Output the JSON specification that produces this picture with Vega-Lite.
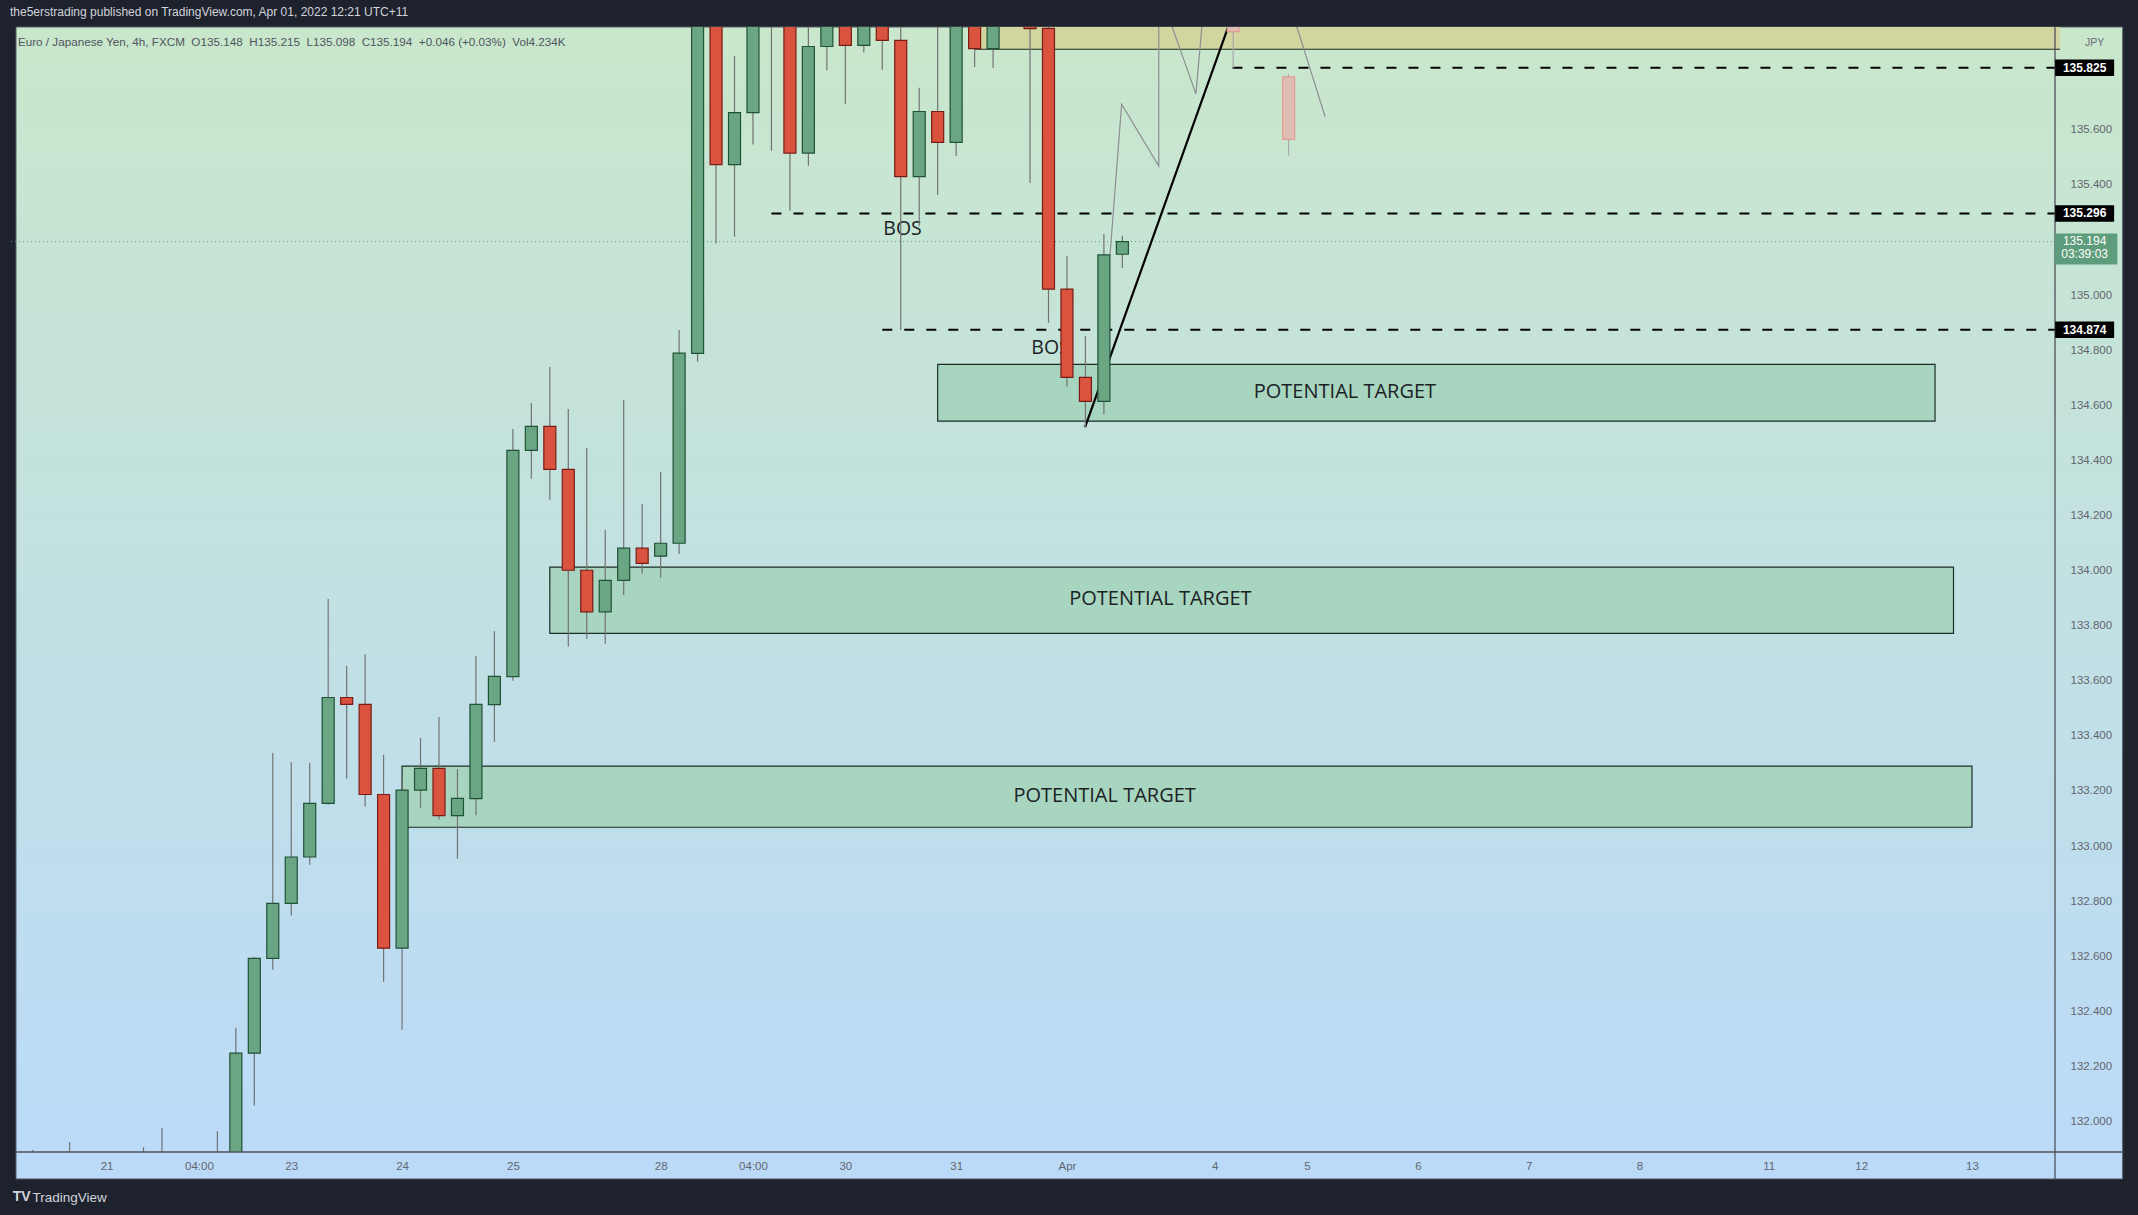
{
  "$schema": "https://vega.github.io/schema/vega-lite/v6.json",
  "width": 2049,
  "height": 1125,
  "autosize": {"type": "none"},
  "padding": {"left": 11, "top": 27, "right": 78, "bottom": 63},
  "background": "#1e222d",
  "title": {
    "text": "the5erstrading published on TradingView.com, Apr 01, 2022 12:21 UTC+11",
    "anchor": "start",
    "frame": "group",
    "offset": 7,
    "dx": -1,
    "font": "Liberation Sans",
    "fontSize": 12,
    "fontWeight": "normal",
    "color": "#d1d4dc"
  },
  "config": {
    "view": {"stroke": null},
    "axis": {"grid": false, "domain": false, "ticks": false, "labelFont": "Liberation Sans", "labelFontSize": 11.5, "labelColor": "#62656f", "labelOverlap": false}
  },
  "datasets": {
    "candles": [
      {"i": -4, "o": 131.80, "h": 131.897, "l": 131.62, "c": 131.84},
      {"i": -3, "o": 131.84, "h": 131.87, "l": 131.66, "c": 131.74},
      {"i": -2, "o": 131.74, "h": 131.926, "l": 131.68, "c": 131.85},
      {"i": -1, "o": 131.85, "h": 131.88, "l": 131.62, "c": 131.66},
      {"i": 0, "o": 131.66, "h": 131.75, "l": 131.50, "c": 131.58},
      {"i": 1, "o": 131.58, "h": 131.80, "l": 131.52, "c": 131.74},
      {"i": 2, "o": 131.74, "h": 131.907, "l": 131.66, "c": 131.82},
      {"i": 3, "o": 131.82, "h": 131.976, "l": 131.70, "c": 131.75},
      {"i": 4, "o": 131.75, "h": 131.86, "l": 131.60, "c": 131.68},
      {"i": 5, "o": 131.68, "h": 131.85, "l": 131.60, "c": 131.79},
      {"i": 6, "o": 131.79, "h": 131.965, "l": 131.72, "c": 131.80},
      {"i": 7, "o": 131.80, "h": 132.340, "l": 131.76, "c": 132.248},
      {"i": 8, "o": 132.248, "h": 132.597, "l": 132.058, "c": 132.592},
      {"i": 9, "o": 132.592, "h": 133.338, "l": 132.551, "c": 132.792},
      {"i": 10, "o": 132.792, "h": 133.304, "l": 132.748, "c": 132.960},
      {"i": 11, "o": 132.960, "h": 133.302, "l": 132.932, "c": 133.155},
      {"i": 12, "o": 133.155, "h": 133.897, "l": 133.150, "c": 133.539},
      {"i": 13, "o": 133.539, "h": 133.653, "l": 133.245, "c": 133.514},
      {"i": 14, "o": 133.514, "h": 133.696, "l": 133.143, "c": 133.187},
      {"i": 15, "o": 133.187, "h": 133.331, "l": 132.507, "c": 132.629},
      {"i": 16, "o": 132.629, "h": 133.245, "l": 132.333, "c": 133.203},
      {"i": 17, "o": 133.203, "h": 133.392, "l": 133.139, "c": 133.282},
      {"i": 18, "o": 133.282, "h": 133.468, "l": 133.096, "c": 133.110},
      {"i": 19, "o": 133.110, "h": 133.279, "l": 132.954, "c": 133.173},
      {"i": 20, "o": 133.172, "h": 133.690, "l": 133.112, "c": 133.514},
      {"i": 21, "o": 133.513, "h": 133.780, "l": 133.378, "c": 133.616},
      {"i": 22, "o": 133.615, "h": 134.514, "l": 133.600, "c": 134.436},
      {"i": 23, "o": 134.436, "h": 134.608, "l": 134.333, "c": 134.523},
      {"i": 24, "o": 134.523, "h": 134.739, "l": 134.257, "c": 134.367},
      {"i": 25, "o": 134.367, "h": 134.586, "l": 133.723, "c": 134.001},
      {"i": 26, "o": 134.001, "h": 134.445, "l": 133.752, "c": 133.850},
      {"i": 27, "o": 133.850, "h": 134.147, "l": 133.734, "c": 133.964},
      {"i": 28, "o": 133.964, "h": 134.619, "l": 133.911, "c": 134.081},
      {"i": 29, "o": 134.081, "h": 134.241, "l": 133.988, "c": 134.026},
      {"i": 30, "o": 134.052, "h": 134.358, "l": 133.974, "c": 134.099},
      {"i": 31, "o": 134.099, "h": 134.873, "l": 134.060, "c": 134.789},
      {"i": 32, "o": 134.788, "h": 136.40, "l": 134.758, "c": 136.30},
      {"i": 33, "o": 136.30, "h": 136.45, "l": 135.187, "c": 135.473},
      {"i": 34, "o": 135.473, "h": 135.867, "l": 135.211, "c": 135.662},
      {"i": 35, "o": 135.662, "h": 136.30, "l": 135.546, "c": 136.20},
      {"i": 36, "o": 136.20, "h": 136.35, "l": 135.524, "c": 136.05},
      {"i": 37, "o": 136.05, "h": 136.15, "l": 135.306, "c": 135.515},
      {"i": 38, "o": 135.515, "h": 136.10, "l": 135.469, "c": 135.902},
      {"i": 39, "o": 135.902, "h": 136.10, "l": 135.816, "c": 136.02},
      {"i": 40, "o": 136.02, "h": 136.12, "l": 135.694, "c": 135.906},
      {"i": 41, "o": 135.906, "h": 136.08, "l": 135.880, "c": 136.00},
      {"i": 42, "o": 136.00, "h": 136.06, "l": 135.818, "c": 135.924},
      {"i": 43, "o": 135.924, "h": 136.05, "l": 134.873, "c": 135.430},
      {"i": 44, "o": 135.430, "h": 135.752, "l": 135.250, "c": 135.666},
      {"i": 45, "o": 135.666, "h": 136.05, "l": 135.363, "c": 135.554},
      {"i": 46, "o": 135.554, "h": 136.10, "l": 135.505, "c": 136.00},
      {"i": 47, "o": 136.00, "h": 136.05, "l": 135.828, "c": 135.894},
      {"i": 48, "o": 135.894, "h": 136.08, "l": 135.824, "c": 136.00},
      {"i": 49, "o": 136.00, "h": 136.10, "l": 135.98, "c": 136.03},
      {"i": 50, "o": 136.03, "h": 136.06, "l": 135.407, "c": 135.967},
      {"i": 51, "o": 135.968, "h": 136.00, "l": 134.899, "c": 135.021},
      {"i": 52, "o": 135.021, "h": 135.142, "l": 134.667, "c": 134.701},
      {"i": 53, "o": 134.701, "h": 134.851, "l": 134.520, "c": 134.614},
      {"i": 54, "o": 134.614, "h": 135.221, "l": 134.566, "c": 135.146},
      {"i": 55, "o": 135.148, "h": 135.215, "l": 135.098, "c": 135.194}
    ],
    "proj": [
      {"i": 61, "o": 135.99, "h": 136.00, "l": 135.823, "c": 135.956},
      {"i": 64, "o": 135.792, "h": 135.801, "l": 135.506, "c": 135.565}
    ],
    "zones": [
      {"x0": 45, "x1": 99, "top": 134.748, "bot": 134.542, "tx": 67.05, "ty": 134.648, "label": "POTENTIAL TARGET"},
      {"x0": 24, "x1": 100, "top": 134.012, "bot": 133.772, "tx": 57.06, "ty": 133.895, "label": "POTENTIAL TARGET"},
      {"x0": 16, "x1": 101, "top": 133.290, "bot": 133.068, "tx": 54.04, "ty": 133.180, "label": "POTENTIAL TARGET"}
    ],
    "supply": [{"x0": 47, "x1": 106, "top": 136.2, "bot": 135.892}],
    "levels": [
      {"x0": 60.96, "x1": 105.5, "p": 135.825},
      {"x0": 36, "x1": 105.5, "p": 135.296},
      {"x0": 42, "x1": 105.5, "p": 134.874}
    ],
    "bos": [
      {"i": 43.1, "p": 135.240, "label": "BOS"},
      {"i": 51.11, "p": 134.806, "label": "BOS"}
    ],
    "trend": [
      {"k": 0, "i": 52.98, "p": 134.520},
      {"k": 1, "i": 61.0, "p": 136.024}
    ],
    "path": [
      {"k": 0, "i": 54.33, "p": 135.145},
      {"k": 1, "i": 54.96, "p": 135.693},
      {"k": 2, "i": 56.97, "p": 135.468},
      {"k": 3, "i": 56.97, "p": 136.10},
      {"k": 4, "i": 57.40, "p": 136.03},
      {"k": 5, "i": 58.98, "p": 135.730},
      {"k": 6, "i": 59.50, "p": 136.12},
      {"k": 7, "i": 63.76, "p": 136.12},
      {"k": 8, "i": 65.98, "p": 135.647}
    ],
    "tags": [
      {"p": 135.825, "label": "135.825"},
      {"p": 135.296, "label": "135.296"},
      {"p": 134.874, "label": "134.874"}
    ],
    "last": [{"p": 135.194, "lines": ["135.194", "03:39:03"]}],
    "legend": [{"i": -4.80, "p": 135.918, "label": "Euro / Japanese Yen, 4h, FXCM \u00a0O135.148 \u00a0H135.215 \u00a0L135.098 \u00a0C135.194 \u00a0+0.046 (+0.03%) \u00a0Vol4.234K"}],
    "logo": [{"i": -4.60, "p": 131.726, "label": "TV"}]
  },
  "layer": [
    {
      "data": {"values": [{}]},
      "mark": {"type": "rect", "clip": false, "stroke": "#555a66", "strokeWidth": 1,
        "fill": {"gradient": "linear", "x1": 0, "y1": 0, "x2": 0, "y2": 1, "stops": [{"offset": 0, "color": "#c9e7cb"}, {"offset": 1, "color": "#bbdafa"}]}},
      "encoding": {
        "x": {"datum": -4.903, "type": "quantitative", "scale": {"domain": [-4.903, 105.496], "nice": false, "zero": false},
          "axis": {"zindex": 2, "values": [0, 5, 10, 16, 22, 30, 35, 40, 46, 52, 60, 65, 71, 77, 83, 90, 95, 101],
            "labelExpr": "['21','04:00','23','24','25','28','04:00','30','31','Apr','4','5','6','7','8','11','12','13'][indexof([0,5,10,16,22,30,35,40,46,52,60,65,71,77,83,90,95,101], datum.value)]",
            "labelPadding": 8, "labelFlush": false,
            "title": "TradingView", "titleX": 21, "titleY": 45, "titleAlign": "left", "titleAnchor": "start", "titleBaseline": "middle",
            "titleColor": "#d1d4dc", "titleFont": "Liberation Sans", "titleFontSize": 13.5, "titleFontWeight": "normal"}},
        "x2": {"datum": 109.16},
        "y": {"datum": 135.9728, "type": "quantitative", "scale": {"domain": [131.8893, 135.9728], "nice": false, "zero": false},
          "axis": {"zindex": 2, "orient": "right", "values": [132.0, 132.2, 132.4, 132.6, 132.8, 133.0, 133.2, 133.4, 133.6, 133.8, 134.0, 134.2, 134.4, 134.6, 134.8, 135.0, 135.4, 135.6],
            "format": ".3f", "labelPadding": 10,
            "title": "JPY", "titleAngle": 0, "titleX": 34, "titleY": 15, "titleAlign": "center", "titleBaseline": "middle",
            "titleColor": "#6b6e79", "titleFont": "Liberation Sans", "titleFontSize": 10.5, "titleFontWeight": "normal"}},
        "y2": {"datum": 131.7913}
      }
    },
    {
      "data": {"name": "legend"},
      "mark": {"type": "text", "clip": false, "font": "Liberation Sans", "fontSize": 11.7, "color": "#4f5560", "align": "left", "baseline": "middle"},
      "encoding": {
        "x": {"field": "i", "type": "quantitative"},
        "y": {"field": "p", "type": "quantitative"},
        "text": {"field": "label"}
      }
    },
    {
      "data": {"name": "logo"},
      "mark": {"type": "text", "clip": false, "font": "Liberation Sans", "fontSize": 14, "fontWeight": "bold", "color": "#d1d4dc", "align": "center", "baseline": "middle"},
      "encoding": {
        "x": {"field": "i", "type": "quantitative"},
        "y": {"field": "p", "type": "quantitative"},
        "text": {"field": "label"}
      }
    },
    {
      "data": {"name": "supply"},
      "mark": {"type": "rect", "clip": true, "fill": "#d3d5a0", "stroke": "#1f2b22", "strokeWidth": 1},
      "encoding": {
        "x": {"field": "x0", "type": "quantitative"},
        "x2": {"field": "x1"},
        "y": {"field": "top", "type": "quantitative"},
        "y2": {"field": "bot"}
      }
    },
    {
      "data": {"name": "zones"},
      "mark": {"type": "rect", "clip": true, "fill": "#a8d5bf", "stroke": "#1c2d26", "strokeWidth": 1.2},
      "encoding": {
        "x": {"field": "x0", "type": "quantitative"},
        "x2": {"field": "x1"},
        "y": {"field": "top", "type": "quantitative"},
        "y2": {"field": "bot"}
      }
    },
    {
      "data": {"name": "zones"},
      "mark": {"type": "text", "font": "Open Sans", "fontSize": 20, "color": "#1b2226", "align": "center", "baseline": "middle"},
      "encoding": {
        "x": {"field": "tx", "type": "quantitative"},
        "y": {"field": "ty", "type": "quantitative"},
        "text": {"field": "label"}
      }
    },
    {
      "data": {"name": "bos"},
      "mark": {"type": "text", "font": "Open Sans", "fontSize": 19.5, "color": "#1b2226", "align": "center", "baseline": "middle"},
      "encoding": {
        "x": {"field": "i", "type": "quantitative"},
        "y": {"field": "p", "type": "quantitative"},
        "text": {"field": "label"}
      }
    },
    {
      "data": {"name": "levels"},
      "mark": {"type": "rule", "clip": true, "color": "#000000", "strokeWidth": 2, "strokeDash": [10, 12]},
      "encoding": {
        "x": {"field": "x0", "type": "quantitative"},
        "x2": {"field": "x1"},
        "y": {"field": "p", "type": "quantitative"}
      }
    },
    {
      "data": {"values": [{"p": 135.194}]},
      "mark": {"type": "rule", "clip": true, "color": "#5a9c78", "strokeWidth": 1, "strokeDash": [1, 3]},
      "encoding": {
        "y": {"field": "p", "type": "quantitative"}
      }
    },
    {
      "data": {"name": "trend"},
      "mark": {"type": "line", "clip": true, "color": "#000000", "strokeWidth": 2.2},
      "encoding": {
        "x": {"field": "i", "type": "quantitative"},
        "y": {"field": "p", "type": "quantitative"},
        "order": {"field": "k"}
      }
    },
    {
      "data": {"name": "path"},
      "mark": {"type": "line", "clip": true, "color": "#8c8e94", "strokeWidth": 1.2},
      "encoding": {
        "x": {"field": "i", "type": "quantitative"},
        "y": {"field": "p", "type": "quantitative"},
        "order": {"field": "k"}
      }
    },
    {
      "data": {"name": "proj"},
      "mark": {"type": "rule", "clip": true, "color": "#a9a9a9", "strokeWidth": 1.2},
      "encoding": {
        "x": {"field": "i", "type": "quantitative"},
        "y": {"field": "l", "type": "quantitative"},
        "y2": {"field": "h"}
      }
    },
    {
      "data": {"name": "proj"},
      "mark": {"type": "bar", "clip": true, "width": 12, "fill": "#dfbdb4", "stroke": "#e39d92", "strokeWidth": 1.2},
      "encoding": {
        "x": {"field": "i", "type": "quantitative"},
        "y": {"field": "o", "type": "quantitative"},
        "y2": {"field": "c"}
      }
    },
    {
      "data": {"name": "candles"},
      "mark": {"type": "rule", "clip": true, "color": "#737373", "strokeWidth": 1.2},
      "encoding": {
        "x": {"field": "i", "type": "quantitative"},
        "y": {"field": "l", "type": "quantitative"},
        "y2": {"field": "h"}
      }
    },
    {
      "data": {"name": "candles"},
      "mark": {"type": "bar", "clip": true, "width": 12, "strokeWidth": 1.2},
      "encoding": {
        "x": {"field": "i", "type": "quantitative"},
        "y": {"field": "o", "type": "quantitative"},
        "y2": {"field": "c"},
        "fill": {"condition": {"test": "datum.c >= datum.o", "value": "#6ba684"}, "value": "#d9533f"},
        "stroke": {"condition": {"test": "datum.c >= datum.o", "value": "#1f5236"}, "value": "#7a1c14"}
      }
    },
    {
      "data": {"values": [{}]},
      "mark": {"type": "rule", "clip": false, "color": "#4f5157", "strokeWidth": 1.3},
      "encoding": {
        "x": {"datum": 105.496, "type": "quantitative"},
        "y": {"datum": 135.9728, "type": "quantitative"},
        "y2": {"datum": 131.7913}
      }
    },
    {
      "data": {"values": [{}]},
      "mark": {"type": "rule", "clip": false, "color": "#4f5157", "strokeWidth": 1.3},
      "encoding": {
        "x": {"datum": -4.903, "type": "quantitative"},
        "x2": {"datum": 109.16},
        "y": {"datum": 131.8893, "type": "quantitative"}
      }
    },
    {
      "data": {"name": "tags"},
      "mark": {"type": "point", "clip": false, "shape": "M-1,-0.28L1,-0.28L1,0.28L-1,0.28Z", "filled": true, "size": 3481, "color": "#000000", "opacity": 1, "strokeWidth": 0},
      "encoding": {
        "x": {"datum": 107.1, "type": "quantitative"},
        "y": {"field": "p", "type": "quantitative"}
      }
    },
    {
      "data": {"name": "tags"},
      "mark": {"type": "text", "clip": false, "font": "Liberation Sans", "fontSize": 12, "fontWeight": "bold", "color": "#ffffff", "align": "center", "baseline": "middle"},
      "encoding": {
        "x": {"datum": 107.1, "type": "quantitative"},
        "y": {"field": "p", "type": "quantitative"},
        "text": {"field": "label"}
      }
    },
    {
      "data": {"name": "last"},
      "mark": {"type": "point", "clip": false, "shape": "M-1,-0.256L1,-0.256L1,0.735L-1,0.735Z", "filled": true, "size": 3919, "color": "#5e9d7b", "opacity": 1, "strokeWidth": 0},
      "encoding": {
        "x": {"datum": 107.18, "type": "quantitative"},
        "y": {"field": "p", "type": "quantitative"}
      }
    },
    {
      "data": {"name": "last"},
      "mark": {"type": "text", "clip": false, "font": "Liberation Sans", "fontSize": 12, "color": "#ffffff", "align": "center", "baseline": "top", "dy": -6, "lineHeight": 13.6},
      "encoding": {
        "x": {"datum": 107.1, "type": "quantitative"},
        "y": {"field": "p", "type": "quantitative"},
        "text": {"field": "lines"}
      }
    }
  ]
}
